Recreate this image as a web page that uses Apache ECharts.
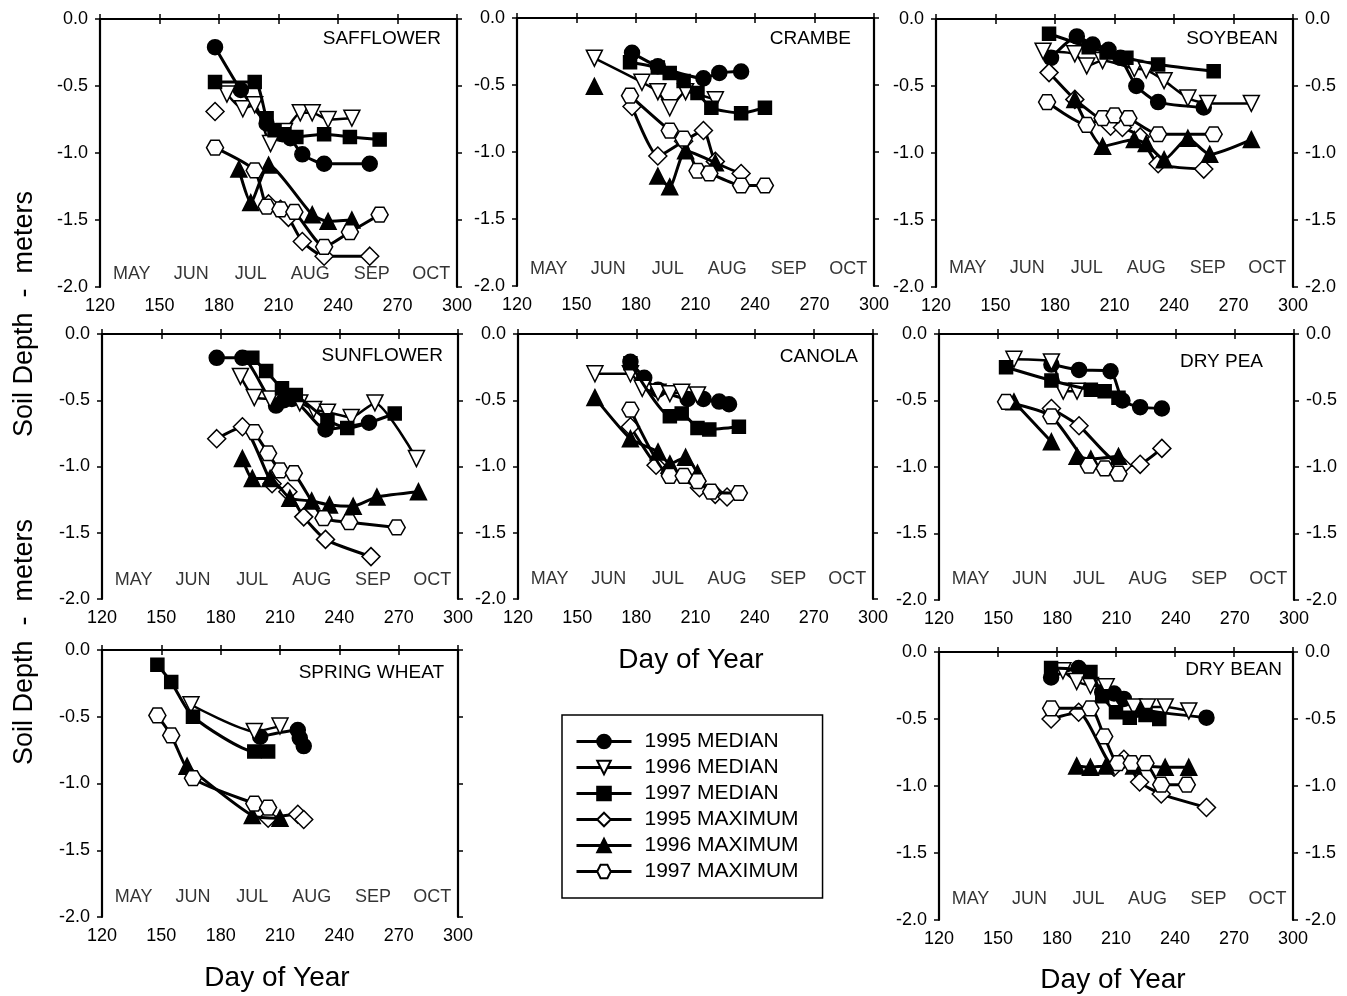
<!DOCTYPE html>
<html><head><meta charset="utf-8">
<script src="https://cdn.jsdelivr.net/npm/echarts@6/dist/echarts.min.js"></script>
<style>html,body{margin:0;padding:0;background:#fff}#c{width:1347px;height:996px}</style>
</head><body><div id="c"></div><script>
// ---------- DATA ----------
const panelNames = ['SAFFLOWER','CRAMBE','SOYBEAN','SUNFLOWER','CANOLA','DRY PEA','SPRING WHEAT','DRY BEAN'];
const seriesNames = ['1995 MEDIAN','1996 MEDIAN','1997 MEDIAN','1995 MAXIMUM','1996 MAXIMUM','1997 MAXIMUM'];
const xTicks = [120,150,180,210,240,270,300];
const yTicks = [0,-0.5,-1.0,-1.5,-2.0];
const monthLabels = ['MAY','JUN','JUL','AUG','SEP','OCT'];
const monthDays = [136,166,196,226,257,287];

const saf95m = [[178,-0.21],[191,-0.53],[204,-0.78],[212,-0.86],[216,-0.89],[222,-1.01],[233,-1.08],[256,-1.08]];
const saf96m = [[184,-0.56],[192,-0.67],[198,-0.64],[206,-0.93],[213,-0.84],[221,-0.70],[227,-0.70],[235,-0.75],[247,-0.74]];
const saf97m = [[178,-0.47],[198,-0.47],[204,-0.74],[208,-0.83],[213,-0.86],[219,-0.88],[233,-0.86],[246,-0.88],[261,-0.90]];
const saf95x = [[178,-0.69],null,[205,-1.38],[211,-1.42],[215,-1.48],[222,-1.66],[233,-1.77],[256,-1.77]];
const saf96x = [[190,-1.12],[196,-1.37],[205,-1.09],[227,-1.46],[235,-1.51],[247,-1.50]];
const saf97x = [[178,-0.96],[198,-1.13],[204,-1.40],[211,-1.42],[218,-1.44],[233,-1.70],[246,-1.59],[261,-1.46]];

const cra95m = [[178,-0.26],[191,-0.36],[214,-0.45],[222,-0.41],[233,-0.40]];
const cra96m = [[159,-0.30],[183,-0.48],[191,-0.55],[197,-0.67],[205,-0.55],[220,-0.61]];
const cra97m = [[177,-0.33],[191,-0.37],[197,-0.41],[204,-0.47],[211,-0.56],[218,-0.67],[233,-0.71],[245,-0.67]];
const cra95x = [[178,-0.66],[191,-1.03],[204,-0.92],[214,-0.84],[220,-1.07],[233,-1.16]];
const cra96x = [[159,-0.51],null,[191,-1.18],[197,-1.26],[205,-0.99],[220,-1.08]];
const cra97x = [[177,-0.58],[197,-0.84],[204,-0.90],[211,-1.14],[217,-1.16],[233,-1.25],[245,-1.25]];

const soy95m = [[178,-0.29],[191,-0.13],[199,-0.19],[207,-0.23],[213,-0.29],[221,-0.50],[232,-0.62],[255,-0.66]];
const soy96m = [[174,-0.24],[190,-0.26],[196,-0.35],[204,-0.31],[220,-0.37],[226,-0.38],[235,-0.46],[247,-0.59],[257,-0.63],[279,-0.63]];
const soy97m = [[177,-0.11],[197,-0.21],[206,-0.25],[216,-0.29],[232,-0.34],[260,-0.39]];
const soy95x = [[177,-0.40],[190,-0.60],[208,-0.80],[214,-0.81],[223,-0.88],[232,-1.08],[255,-1.12]];
const soy96x = [[190,-0.60],[204,-0.95],[220,-0.90],[226,-0.93],[235,-1.05],[247,-0.89],[258,-1.01],[279,-0.90]];
const soy97x = [[176,-0.62],[196,-0.79],[204,-0.74],[210,-0.72],[217,-0.74],[232,-0.86],[260,-0.86]];

const sun95m = [[178,-0.18],[191,-0.18],[208,-0.54],[212,-0.50],[216,-0.49],[233,-0.72],[255,-0.67]];
const sun96m = [[190,-0.32],[197,-0.48],[205,-0.49],[220,-0.52],[227,-0.57],[234,-0.59],[246,-0.63],[258,-0.52],[279,-0.94]];
const sun97m = [[196,-0.18],[203,-0.28],[211,-0.41],[218,-0.46],[234,-0.65],[244,-0.71],[268,-0.60]];
const sun95x = [[178,-0.79],[191,-0.70],[206,-1.13],[214,-1.19],[222,-1.38],[233,-1.55],[256,-1.68]];
const sun96x = [[191,-0.94],[196,-1.09],[205,-1.09],[215,-1.24],[226,-1.26],[235,-1.29],[247,-1.30],[259,-1.23],[280,-1.19]];
const sun97x = [[197,-0.74],[204,-0.90],[210,-1.03],[217,-1.05],[232,-1.39],[245,-1.42],[269,-1.46]];

const can95m = [[177,-0.21],[184,-0.33],[191,-0.42],[206,-0.49],[214,-0.49],[222,-0.51],[227,-0.53]];
const can96m = [[159,-0.30],[177,-0.30],[183,-0.41],[191,-0.44],[197,-0.45],[203,-0.44],[211,-0.46]];
const can97m = [[177,-0.22],[197,-0.62],[203,-0.60],[211,-0.71],[217,-0.72],[232,-0.70]];
const can95x = [[177,-0.70],[190,-0.99],[197,-1.05],[212,-1.16],[220,-1.21],[226,-1.23]];
const can96x = [[159,-0.48],[177,-0.79],[191,-0.89],[197,-0.98],[205,-0.93],[211,-1.05]];
const can97x = [[177,-0.57],[197,-1.07],[204,-1.07],[211,-1.11],[218,-1.19],[232,-1.20]];

const pea95m = [[177,-0.23],[191,-0.27],[207,-0.28],[213,-0.50],[222,-0.55],[233,-0.56]];
const pea96m = [[158,-0.19],[177,-0.21],[183,-0.43],[190,-0.43]];
const pea97m = [[154,-0.25],[177,-0.35],[197,-0.42],[204,-0.43],[211,-0.48]];
const pea95x = [[177,-0.56],[191,-0.69],[213,-0.99],[222,-0.98],[233,-0.86]];
const pea96x = [[158,-0.51],[177,-0.81],null,[190,-0.92],[197,-0.94],[211,-0.92]];
const pea97x = [[154,-0.51],[177,-0.62],[196,-0.99],[204,-1.01],[211,-1.05]];

const whe95m = [[200,-0.65],[219,-0.60],[220,-0.66],[222,-0.72]];
const whe96m = [[165,-0.41],[197,-0.61],[210,-0.57]];
const whe97m = [[148,-0.11],[155,-0.24],[166,-0.50],[197,-0.76],[204,-0.76]];
const whe95x = [[204,-1.26],[219,-1.23],[222,-1.27]];
const whe96x = [[163,-0.87],[196,-1.24],[210,-1.26]];
const whe97x = [[148,-0.49],[155,-0.64],[166,-0.96],[197,-1.15],[204,-1.18]];

const bea95m = [[177,-0.19],[191,-0.12],[203,-0.30],[209,-0.31],[214,-0.35],[224,-0.43],[256,-0.49]];
const bea96m = [[183,-0.14],[190,-0.22],[197,-0.25],[205,-0.26],[219,-0.41],[226,-0.41],[235,-0.41],[247,-0.44]];
const bea97m = [[177,-0.12],[197,-0.15],[203,-0.33],[210,-0.45],[217,-0.49],[225,-0.47],[232,-0.50]];
const bea95x = [[177,-0.50],[191,-0.45],[209,-0.86],[214,-0.80],[222,-0.97],[233,-1.06],[256,-1.16]];
const bea96x = [[190,-0.85],[197,-0.86],[205,-0.85],[219,-0.85],[235,-0.86],[247,-0.86]];
const bea97x = [[177,-0.42],[197,-0.42],[204,-0.63],[211,-0.83],[218,-0.83],[225,-0.83],[233,-0.99],[246,-0.99]];

const panelData = [
  [saf95m,saf96m,saf97m,saf95x,saf96x,saf97x],
  [cra95m,cra96m,cra97m,cra95x,cra96x,cra97x],
  [soy95m,soy96m,soy97m,soy95x,soy96x,soy97x],
  [sun95m,sun96m,sun97m,sun95x,sun96x,sun97x],
  [can95m,can96m,can97m,can95x,can96x,can97x],
  [pea95m,pea96m,pea97m,pea95x,pea96x,pea97x],
  [whe95m,whe96m,whe97m,whe95x,whe96x,whe97x],
  [bea95m,bea96m,bea97m,bea95x,bea96x,bea97x]
];

// ---------- LAYOUT ----------
const FONT = 'Liberation Sans, Arial, Helvetica, sans-serif';
const grids = [
  [100,19,357,268],[517,18,357,268],[936,19,357,268],
  [102,334,356,265],[518,334,355,265],[939,334,355,266],
  [102,650,356,267],[939,652,354,268]
];
const rightLabels = [false,false,true,false,false,true,false,true];
const titlePos = [[441,39],[851,39],[1278,39],[443,356],[858,357],[1263,362],[444,673],[1282,670]];
const monthY = [-1.90,-1.87,-1.86,-1.86,-1.85,-1.84,-1.85,-1.84];

const hexPath = 'path://M0,4.33 L2.5,0 L7.5,0 L10,4.33 L7.5,8.66 L2.5,8.66 Z';
const mk = [
  {symbol:'circle', size:15, fill:'#000', rot:0, lw:3},
  {symbol:'triangle', size:16, fill:'#fff', rot:180, lw:2.5},
  {symbol:'rect', size:13, fill:'#000', rot:0, lw:3},
  {symbol:'diamond', size:18, fill:'#fff', rot:0, lw:3},
  {symbol:'triangle', size:16, fill:'#000', rot:0, lw:3},
  {symbol:hexPath, size:17, fill:'#fff', rot:0, lw:3}
];

const gridOpt = [], xAxes = [], yAxes = [], series = [], titles = [];
const axisLine = {show:true, lineStyle:{color:'#000', width:2.2}};
const tick = {show:true, inside:false, length:5, lineStyle:{color:'#000', width:1.5}};
const lbl = {color:'#000', fontSize:18, fontFamily:FONT};

grids.forEach((g,p)=>{
  gridOpt.push({left:g[0], top:g[1], width:g[2], height:g[3], show:false, containLabel:false});
  const xb = {type:'value', gridIndex:p, min:120, max:300, interval:30, position:'bottom',
    axisLine, axisTick:tick, splitLine:{show:false},
    axisLabel:Object.assign({margin:10, formatter:v=>String(v)}, lbl)};
  const xt = {type:'value', gridIndex:p, min:120, max:300, interval:30, position:'top',
    axisLine, axisTick:tick, splitLine:{show:false}, axisLabel:{show:false}};
  const yl = {type:'value', gridIndex:p, min:-2, max:0, interval:0.5, position:'left',
    axisLine, axisTick:tick, splitLine:{show:false},
    axisLabel:Object.assign({margin:12, formatter:v=>v.toFixed(1)}, lbl)};
  const yr = {type:'value', gridIndex:p, min:-2, max:0, interval:0.5, position:'right',
    axisLine, axisTick:tick, splitLine:{show:false},
    axisLabel:Object.assign({show:rightLabels[p], margin:12, formatter:v=>v.toFixed(1)}, lbl)};
  xAxes.push(xb, xt); yAxes.push(yl, yr);

  panelData[p].forEach((arr,s)=>{
    const m = mk[s];
    series.push({
      type:'line', name:seriesNames[s], xAxisIndex:2*p, yAxisIndex:2*p,
      data: arr.map(d=> d===null ? ['-','-'] : d),
      smooth:0.2, connectNulls:false,
      symbol:m.symbol, symbolSize:m.size, symbolRotate:m.rot, symbolKeepAspect:true,
      showAllSymbol:true,
      lineStyle:{color:'#000', width:m.lw},
      itemStyle:{color:m.fill, borderColor:'#000', borderWidth:1.5},
      emphasis:{disabled:true}, animation:false, z:2+s
    });
  });
  series.push({
    type:'scatter', xAxisIndex:2*p, yAxisIndex:2*p, silent:true, symbolSize:0,
    data: monthDays.map((d,i)=>({name:monthLabels[i], value:[d, monthY[p]]})),
    label:{show:true, position:'inside', formatter:'{b}', color:'#000', fontSize:18, fontFamily:FONT},
    animation:false
  });
  titles.push({text:panelNames[p], right:1347-titlePos[p][0], top:titlePos[p][1]-10, padding:0,
    textStyle:{fontSize:19, fontWeight:'normal', color:'#000', fontFamily:FONT}});
});

const bigFont = '28px ' + FONT;
const yFont = '27px ' + FONT;
const graphic = [
  {type:'text', x:691, y:660, style:{text:'Day of Year', font:bigFont, fill:'#000', textAlign:'center', textVerticalAlign:'middle'}},
  {type:'text', x:277, y:978, style:{text:'Day of Year', font:bigFont, fill:'#000', textAlign:'center', textVerticalAlign:'middle'}},
  {type:'text', x:1113, y:980, style:{text:'Day of Year', font:bigFont, fill:'#000', textAlign:'center', textVerticalAlign:'middle'}},
  {type:'text', x:25, y:314, rotation:Math.PI/2, style:{text:'Soil Depth  -  meters', font:yFont, fill:'#000', textAlign:'center', textVerticalAlign:'middle'}},
  {type:'text', x:25, y:642, rotation:Math.PI/2, style:{text:'Soil Depth  -  meters', font:yFont, fill:'#000', textAlign:'center', textVerticalAlign:'middle'}}
];

const chart = echarts.init(document.getElementById('c'), null, {renderer:'canvas'});
chart.setOption({
  backgroundColor:'#fff',
  animation:false,
  title:titles,
  grid:gridOpt, xAxis:xAxes, yAxis:yAxes, series, graphic,
  legend:{
    data:seriesNames, orient:'vertical', left:562, top:715,
    padding:[16,24,16,13], itemWidth:55, itemHeight:17, itemGap:5,
    borderColor:'#000', borderWidth:1.5, backgroundColor:'#fff',
    selectedMode:false,
    lineStyle:{width:3},
    textStyle:{fontSize:21, color:'#000', fontFamily:FONT, padding:[0,0,0,8]}
  }
});
</script></body></html>
